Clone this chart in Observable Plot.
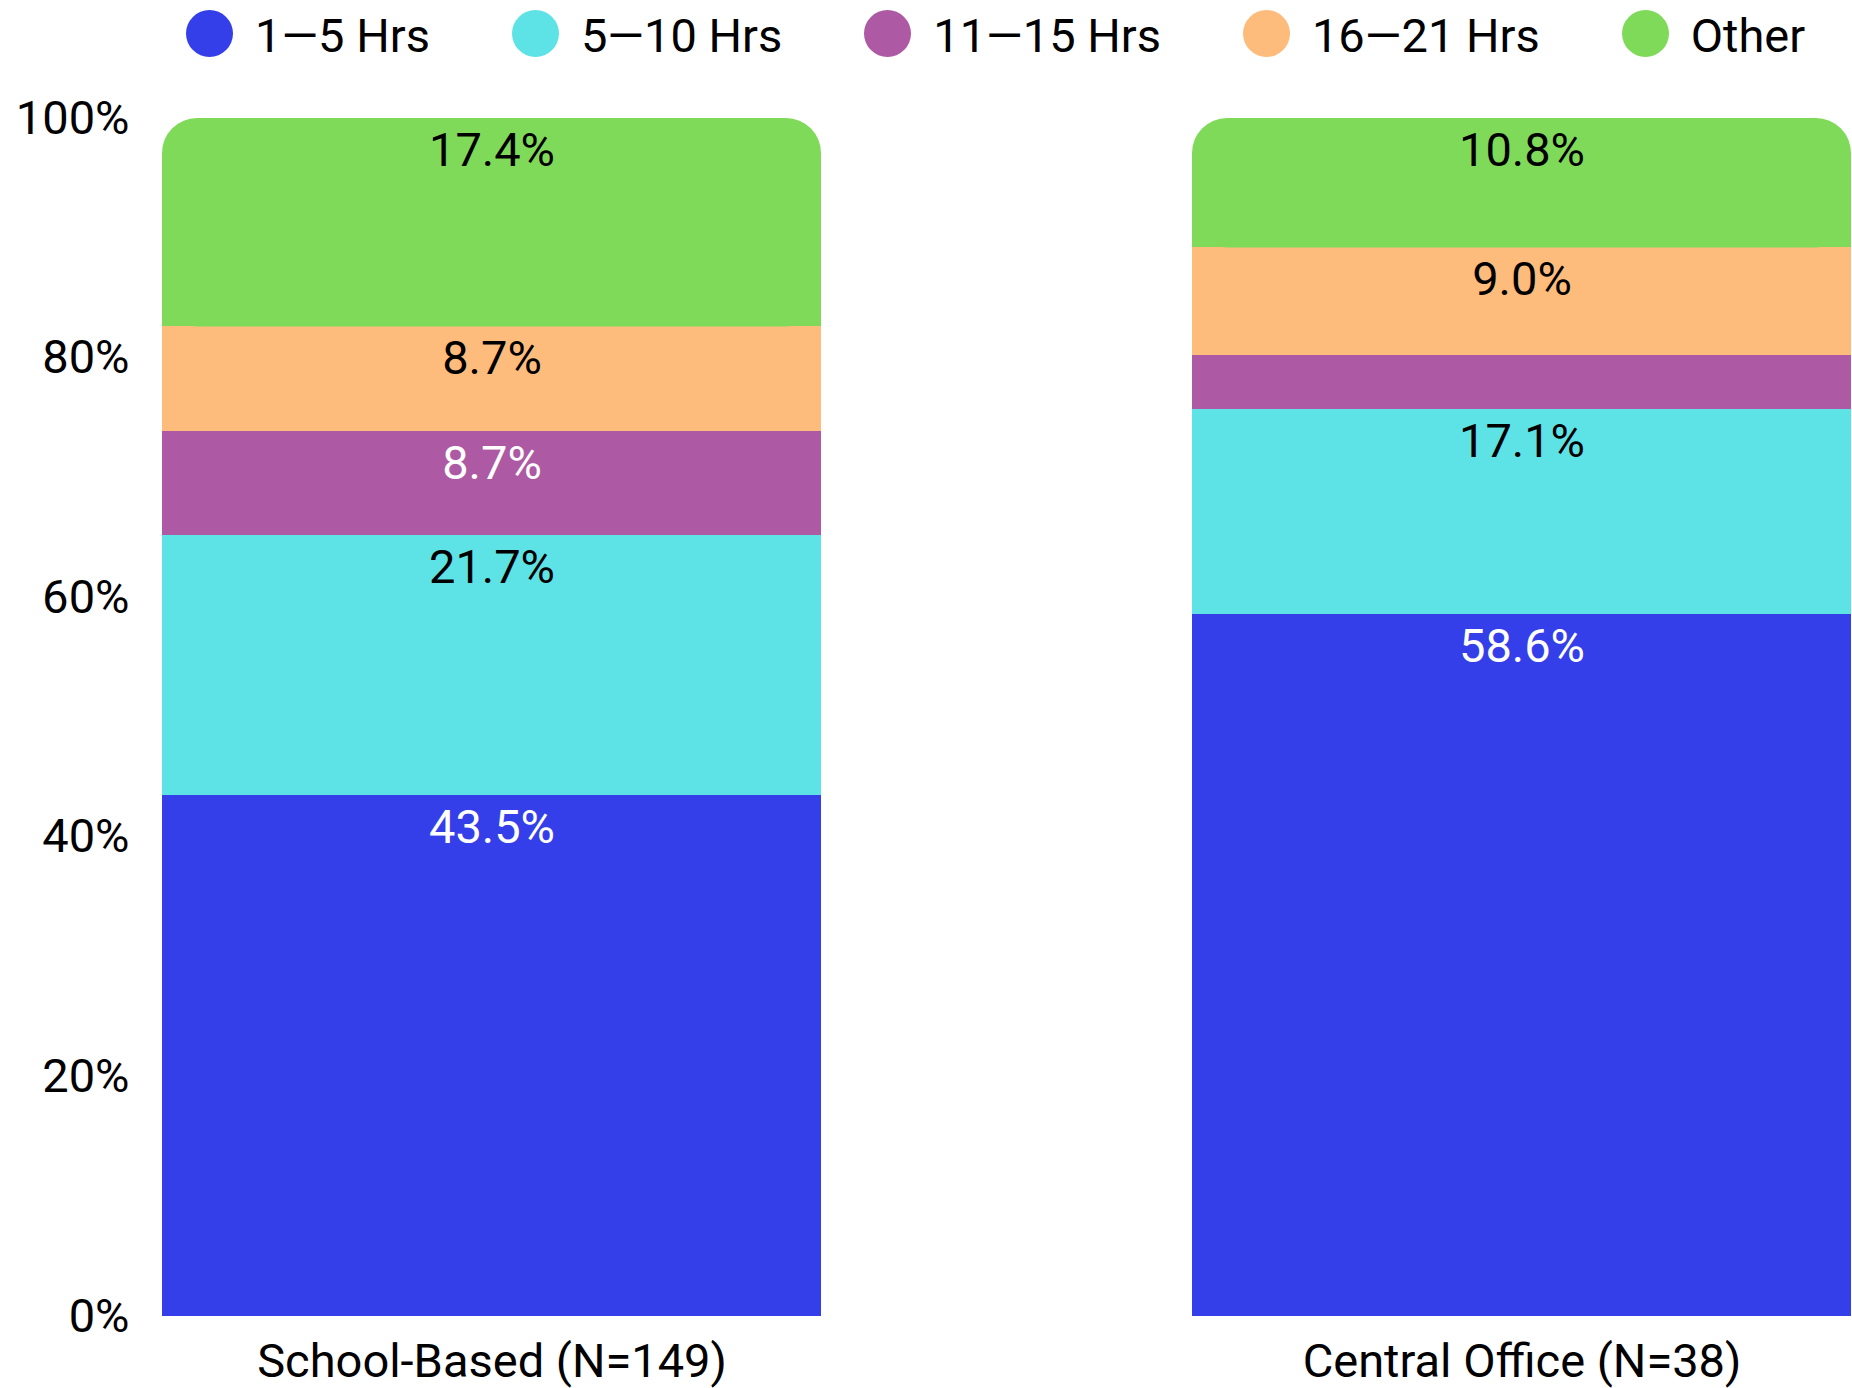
<!DOCTYPE html>
<html>
<head>
<meta charset="utf-8">
<script src="https://cdn.jsdelivr.net/npm/d3@7"></script>
<script src="https://cdn.jsdelivr.net/npm/@observablehq/plot@0.6"></script>
<style>
  html, body { margin: 0; padding: 0; background: #fff; }
  body { font-family: Roboto, "Noto Sans", sans-serif; width: 1852px; }
  #legend { position: relative; height: 70px; }
  #legend .items { position: absolute; left: 186px; top: 10px; display: flex; gap: 82px; }
  #legend .item { display: flex; align-items: center; height: 47px; }
  #legend .swatch { width: 47px; height: 47px; border-radius: 50%; margin-right: 22px; flex: none; }
  #legend .name { font-size: 47px; line-height: 47px; color: #000; position: relative; top: 2px; white-space: nowrap; }
</style>
</head>
<body>
<div id="legend"><div class="items"></div></div>
<div id="chart"></div>
<script>
// Share of respondents by hours, for each staff group
const groups = ["School-Based (N=149)", "Central Office (N=38)"];
const categories = ["1—5 Hrs", "5—10 Hrs", "11—15 Hrs", "16—21 Hrs", "Other"];
const schoolBased = [43.5, 21.7, 8.7, 8.7, 17.4];
const centralOffice = [58.6, 17.1, 4.5, 9.0, 10.8];
const colors = ["#343fe9", "#5de2e6", "#ad59a3", "#fdbb7c", "#80da5a"];
const labelColors = ["#fff", "#000", "#fff", "#000", "#000"];
const yTicks = [0, 20, 40, 60, 80, 100];

// Legend
const items = d3.select("#legend .items");
categories.forEach((c, i) => {
  const it = items.append("div").attr("class", "item");
  it.append("div").attr("class", "swatch").style("background", colors[i]);
  it.append("div").attr("class", "name").text(c);
});

// Stacked rows with cumulative bounds
const series = [schoolBased, centralOffice];
const rows = [];
groups.forEach((g, gi) => {
  let acc = 0;
  series[gi].forEach((v, ci) => {
    rows.push({group: g, cat: categories[ci], value: v, y1: acc, y2: acc + v,
               fill: colors[ci], labelFill: labelColors[ci], top: ci === categories.length - 1});
    acc += v;
  });
});
const body = rows.filter(d => !d.top);
const tops = rows.filter(d => d.top);

const chart = Plot.plot({
  width: 1852,
  height: 1318,
  marginLeft: 162,
  marginRight: 0,
  marginTop: 48,
  marginBottom: 72,
  style: {fontFamily: "Roboto, 'Noto Sans', sans-serif", color: "#000", background: "#fff"},
  x: {domain: groups, paddingInner: 0.36, paddingOuter: 0, label: null},
  y: {domain: [0, 100], label: null},
  color: {type: "identity"},
  marks: [
    Plot.barY(body, {x: "group", y1: "y1", y2: "y2", fill: "fill", shapeRendering: "crispEdges"}),
    // top segment: rounded corners, then squared off along its lower half
    Plot.barY(tops, {x: "group", y1: "y1", y2: "y2", fill: "fill", rx: 35, ry: 35}),
    Plot.barY(tops, {x: "group", y1: "y1", y2: d => (d.y1 + d.y2) / 2, fill: "fill", shapeRendering: "crispEdges"}),
    Plot.text(rows.filter(d => d.value >= 5), {
      x: "group", y: "y2", text: d => d.value.toFixed(1) + "%",
      fill: "labelFill", fontSize: 47, lineAnchor: "top", dy: 14
    }),
    Plot.axisY({ticks: yTicks, tickFormat: d => d + "%", tickSize: 0, tickPadding: 33, fontSize: 47, label: null}),
    Plot.axisX({tickSize: 0, tickPadding: 27, fontSize: 47, label: null})
  ]
});
document.getElementById("chart").appendChild(chart);
</script>
</body>
</html>
